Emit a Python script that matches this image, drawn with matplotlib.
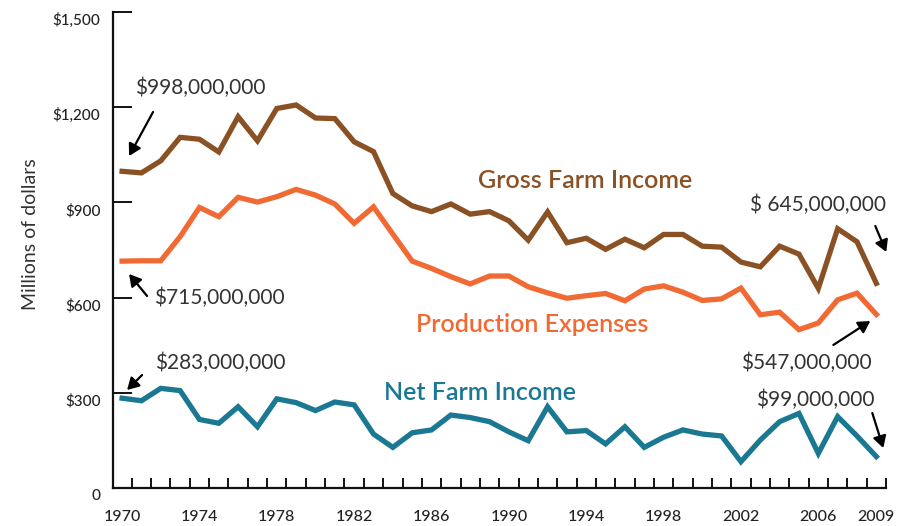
import numpy as np
import matplotlib
matplotlib.use("Agg")
import matplotlib.pyplot as plt
from matplotlib.transforms import ScaledTranslation

# ===================== DATA =====================
years = list(range(1970, 2010))

gross_income = [998, 993, 1031, 1105, 1099, 1059, 1170, 1094, 1196, 1207,
                1166, 1164, 1091, 1060, 928, 889, 871, 895, 863, 871,
                842, 781, 870, 773, 787, 752, 784, 757, 799, 799,
                762, 759, 712, 697, 762, 737, 629, 817, 776, 645]

prod_expenses = [715, 716, 716, 792, 884, 855, 916, 901, 918, 941,
                 923, 895, 834, 886, 800, 715, 692, 666, 643, 668,
                 668, 634, 615, 598, 606, 613, 590, 627, 637, 617,
                 591, 596, 630, 546, 554, 499, 520, 593, 614, 547]

net_income = [283, 275, 314, 307, 216, 204, 256, 193, 281, 269,
              244, 271, 262, 170, 128, 174, 183, 230, 222, 209,
              177, 149, 256, 177, 181, 139, 193, 128, 160, 183,
              170, 164, 83, 151, 209, 235, 109, 225, 164, 99]

y_ticks = [0, 300, 600, 900, 1200, 1500]
y_tick_labels = ["0", "$300", "$600", "$900", "$1,200", "$1,500"]
x_label_years = [1970, 1974, 1978, 1982, 1986, 1990, 1994, 1998, 2002, 2006, 2009]

# ===================== STYLE =====================
BROWN = "#8a5125"
ORANGE = "#f26a33"
TEAL = "#1b7893"
TXT = "#222222"
FONT = ["Lato", "DejaVu Sans"]

W, H = 917, 526
fig = plt.figure(figsize=(W / 100, H / 100), dpi=100)
ax = fig.add_axes([113 / W, (H - 488) / H, (886 - 113) / W, (488 - 12) / H])

lw = 3.8
ax.plot(years, gross_income, color=BROWN, lw=lw, solid_joinstyle="miter", clip_on=False)
ax.plot(years, prod_expenses, color=ORANGE, lw=lw, solid_joinstyle="miter", clip_on=False)
ax.plot(years, net_income, color=TEAL, lw=lw, solid_joinstyle="miter", clip_on=False)

ax.set_xlim(1969.53, 2009.46)
ax.set_ylim(0, 1500)

for s in ["top", "right"]:
    ax.spines[s].set_visible(False)
for s in ["left", "bottom"]:
    ax.spines[s].set_linewidth(1.6)
    ax.spines[s].set_color("#111111")

# x ticks: marks at half years, labels on the years
ax.set_xticks([y + 0.5 for y in years])
ax.set_xticklabels([])
ax.tick_params(axis="x", which="major", direction="in", length=7.5, width=1.4, color="#111111")
ax.set_xticks(x_label_years, minor=True)
ax.set_xticklabels([str(y) for y in x_label_years], minor=True)
ax.tick_params(axis="x", which="minor", length=0, pad=16, labelsize=11.5, labelcolor=TXT)

ax.set_yticks(y_ticks)
ax.set_yticklabels(y_tick_labels)
ax.tick_params(axis="y", direction="in", length=14, width=1.4, color="#111111",
               pad=9, labelsize=11, labelcolor=TXT)
off = ScaledTranslation(0, -7 / 100, fig.dpi_scale_trans)
for lab in ax.get_yticklabels():
    lab.set_transform(lab.get_transform() + off)
for lab in ax.get_xticklabels(minor=True) + ax.get_yticklabels():
    lab.set_family(FONT)
    lab.set_fontweight("medium")


# pixel position -> data coordinates
def px(x, y):
    return (1970 + (x - 122) / 19.36, (488 - y) * 1500 / 476)


fig.text(30 / W, 1 - 234 / H, "Millions of dollars", rotation=90, ha="center", va="center",
         fontsize=14, color="#333333", family=FONT)

# series labels
series_labels = [
    ("Gross Farm Income", BROWN, (586, 180)),
    ("Production Expenses", ORANGE, (533, 325)),
    ("Net Farm Income", TEAL, (480, 393)),
]
for txt, col, pos in series_labels:
    ax.text(*px(*pos), txt, color=col, fontsize=18, family=FONT,
            fontweight="semibold", ha="center", va="center")

# value callouts with arrows
callouts = [
    ("$998,000,000", (135, 88), "left", (153, 112), (129, 156)),
    ("$715,000,000", (154, 298), "left", (147, 296), (129, 274)),
    ("$283,000,000", (155, 363), "left", (142, 375), (127, 390)),
    ("$ 645,000,000", (887, 205), "right", (876, 226), (887, 252)),
    ("$547,000,000", (872, 363), "right", (834, 345), (871, 321)),
    ("$99,000,000", (875, 400), "right", (873, 413), (884, 448)),
]
for txt, (tx, ty), ha, tail, tip in callouts:
    ax.text(*px(tx, ty), txt, ha=ha, va="center", fontsize=15, color="#333333", family=FONT)
    ax.annotate("", xy=px(*tip), xytext=px(*tail),
                arrowprops=dict(arrowstyle="-|>,head_length=0.7,head_width=0.4",
                                color="black", lw=1.6, shrinkA=0, shrinkB=0),
                annotation_clip=False)

fig.savefig("out.png", dpi=100)
